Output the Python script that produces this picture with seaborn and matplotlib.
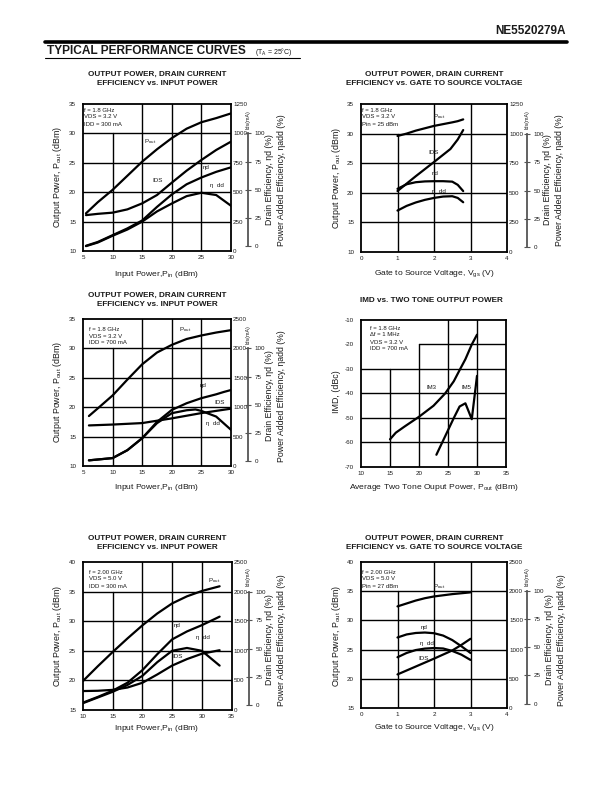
"""
NE5520279A - typical performance curves (datasheet page recreation).
"""
import matplotlib
matplotlib.use("Agg")
import matplotlib.pyplot as plt
from matplotlib.lines import Line2D
import seaborn as sns

W, H = 612, 792

# --- chart 1: f=1.8 GHz, VDS=3.2 V, IDD=300 mA, vs Pin ---
C1_PIN = [5.5, 7.5, 10, 12.5, 15, 17.5, 20, 22.5, 25, 27.5, 30]
C1_POUT = [16.4, 18.3, 20.4, 22.8, 25.2, 27.3, 29.2, 30.8, 31.9, 32.6, 33.4]
C1_IDS = [305, 316, 326, 354, 405, 476, 581, 683, 774, 859, 930]
C1_ETAD = [0.6, 4, 10, 16, 23, 35, 46, 55, 61, 66, 70]
C1_ETAADD = [0.3, 3.5, 9.5, 15, 22, 31, 38, 44.5, 47.5, 45.5, 36]

# --- chart 2: f=1.8 GHz, VDS=3.2 V, Pin=25 dBm, vs Vgs ---
C2_VGS = [1.0, 1.25, 1.5, 1.75, 2.0, 2.25, 2.5, 2.65, 2.8]
C2_POUT = [29.6, 30.0, 30.5, 30.9, 31.3, 31.6, 31.9, 32.1, 32.4]
C2_IDS_VGS = [1.0, 1.5, 2.0, 2.45, 2.65, 2.8]
C2_IDS = [515, 640, 760, 870, 950, 1030]
C2_ETAD = [51.5, 55.5, 57.3, 58, 58.2, 58.2, 57.8, 55, 49.5]
C2_ETAADD = [32.4, 36.5, 39.5, 41.8, 43.5, 44.7, 45, 43.5, 39.7]

# --- chart 3: f=1.8 GHz, VDS=3.2 V, IDD=700 mA, vs Pin ---
C3_PIN = [6, 7.5, 10, 12.5, 15, 17.5, 20, 22.5, 25, 27.5, 30]
C3_POUT = [18.5, 19.8, 22, 24.7, 27.3, 29.3, 30.6, 31.6, 32.2, 32.7, 33.1]
C3_IDS_PIN = [6, 10, 15, 20, 25, 30]
C3_IDS = [690, 705, 730, 810, 900, 975]
C3_ETAD_PIN = [6, 10, 12.5, 15, 17.5, 20, 22.5, 25, 27.5, 28.8, 30]
C3_ETAD = [1, 3, 10, 20.6, 35, 45.6, 51.5, 56, 59.4, 61.5, 63.2]
C3_ETAADD_PIN = [6, 10, 12.5, 15, 17.5, 20, 22.5, 24, 25, 27.5, 30]
C3_ETAADD = [1, 3, 10, 20.6, 33.9, 42.7, 45.3, 46, 44.7, 39.7, 28]

# --- chart 4: IMD vs two tone output power ---
IM3_POUT = [15, 16, 17.5, 20, 22.5, 24.5, 26, 27.1, 28, 29.1, 30]
IM3 = [-58.7, -56, -53.5, -49.5, -45, -40, -35, -30, -26, -20, -16]
IM5_POUT = [23, 24, 25, 26, 27, 28, 29.1, 30]
IM5 = [-65, -60, -55, -50, -45.3, -44, -50.5, -32.8]

# --- chart 5: f=2.00 GHz, VDS=5.0 V, IDD=300 mA, vs Pin ---
C5_PIN = [10, 12.5, 15, 17.5, 20, 22.5, 25, 27.5, 30, 33]
C5_POUT = [19.9, 22.4, 24.8, 27.1, 29.3, 31.3, 33, 34.2, 35.1, 35.9]
C5_IDS = [320, 325, 340, 380, 460, 600, 750, 860, 950, 1010]
C5_ETAD = [2.5, 7.5, 13, 20, 31, 45, 58, 65, 70.5, 78]
C5_ETAADD = [2, 7, 12, 18, 26, 38, 48, 50.5, 48, 35]

# --- chart 6: f=2.00 GHz, VDS=5.0 V, Pin=27 dBm, vs Vgs ---
C6_VGS = [1, 1.25, 1.5, 1.75, 2, 2.25, 2.5, 2.75, 3]
C6_POUT = [32.4, 32.9, 33.4, 33.8, 34.1, 34.3, 34.5, 34.65, 34.8]
C6_ETAD = [58.8, 61.5, 62.8, 63.2, 62.6, 60.5, 56.5, 51, 45]
C6_ETAADD = [41.2, 45, 47.6, 48.9, 49.4, 49, 46.8, 43.5, 38.8]
C6_IDS_VGS = [1, 1.5, 2, 2.5, 2.75, 3]
C6_IDS = [575, 710, 845, 985, 1080, 1185]

TITLE_PIN = ["OUTPUT POWER, DRAIN CURRENT", "EFFICIENCY vs. INPUT POWER"]
TITLE_VGS = ["OUTPUT POWER, DRAIN CURRENT", "EFFICIENCY vs. GATE TO SOURCE VOLTAGE"]
XLAB_PIN = "Input Power,P$_{in}$ (dBm)"
XLAB_VGS = "Gate to Source Voltage, V$_{gs}$ (V)"
YLAB_POUT = "Output Power, P$_{out}$ (dBm)"

sns.set_style("white")
plt.rcParams["font.family"] = ["Liberation Sans", "DejaVu Sans"]
plt.rcParams["mathtext.default"] = "regular"
plt.rcParams["axes.unicode_minus"] = False

fig = plt.figure(figsize=(W / 100, H / 100), dpi=100)
TXT = "#1a1a1a"
LW = 1.6
PT = 0.72  # points per pixel at 100 dpi


def rect(l, t, r, b):
    return [l / W, 1 - b / H, (r - l) / W, (b - t) / H]


def ftext(x, y, s, **kw):
    kw.setdefault("color", TXT)
    kw.setdefault("ha", "center")
    kw.setdefault("va", "center")
    fig.text(x / W, 1 - y / H, s, **kw)


def fline(x0, x1, y0, y1, lw):
    fig.add_artist(Line2D([x0 / W, x1 / W], [1 - y0 / H, 1 - y1 / H],
                          transform=fig.transFigure, color="black", lw=lw))


def base_axes(box, xlim, ylim, xticks, yticks, vgrid, hgrid):
    ax = fig.add_axes(rect(*box))
    ax.set_xlim(*xlim)
    ax.set_ylim(*ylim)
    ax.set_xticks(xticks)
    ax.set_yticks(yticks)
    ax.tick_params(length=0, labelsize=4.5, colors=TXT)
    ax.tick_params(axis="y", pad=5)
    ax.tick_params(axis="x", pad=3)
    for sp in ax.spines.values():
        sp.set_linewidth(1.3)
        sp.set_color("black")
    ylo, yhi = ylim
    xlo, xhi = xlim
    for x, a, b in vgrid:
        ax.axvline(x, ymin=(a - ylo) / (yhi - ylo), ymax=(b - ylo) / (yhi - ylo),
                   color="black", lw=1.0)
    for y, a, b in hgrid:
        ax.axhline(y, xmin=(a - xlo) / (xhi - xlo), xmax=(b - xlo) / (xhi - xlo),
                   color="black", lw=1.0)
    return ax


def side_axes(ax, idd_max, idd_step, off_px):
    ax2 = ax.twinx()
    ax2.set_ylim(0, idd_max)
    ax2.set_yticks(range(0, idd_max + 1, idd_step))
    ax2.tick_params(length=0, labelsize=4.5, pad=1.5, colors=TXT)
    for sp in ax2.spines.values():
        sp.set_visible(False)
    ax3 = ax.twinx()
    ax3.set_ylim(-4, 126)
    ax3.set_yticks([0, 25, 50, 75, 100])
    for k, sp in ax3.spines.items():
        sp.set_visible(k == "right")
    ax3.spines["right"].set_position(("outward", off_px * PT))
    ax3.spines["right"].set_bounds(0, 100)
    ax3.spines["right"].set_color("#555555")
    ax3.spines["right"].set_linewidth(1.3)
    ax3.tick_params(direction="inout", length=5, width=0.8, labelsize=4.5, pad=2.5,
                    color="#555555", labelcolor=TXT)
    return ax2, ax3


def curve(ax, x, y):
    sns.lineplot(x=x, y=y, ax=ax, color="black", linewidth=LW, legend=False)
    ax.set_xlabel("")
    ax.set_ylabel("")


def cond_text(x, y, lines):
    for i, s in enumerate(lines):
        ftext(x, y + i * 7, s, ha="left", fontsize=4.3)


def titles(cx, y, lines):
    for i, s in enumerate(lines):
        ftext(cx, y + i * 9.5, s, fontsize=5.9, fontweight="bold")


def eff_labels(x1, x2, yc, idx, idy):
    ftext(x1, yc, "Drain Efficiency, ηd (%)", rotation=90, fontsize=6.3)
    ftext(x2, yc, "Power Added Efficiency, ηadd (%)", rotation=90, fontsize=6.3)
    ftext(idx, idy, "Ids(mA)", rotation=90, fontsize=3.8)


# ---------------- header ----------------
ftext(566, 31, "NE5520279A", ha="right", fontsize=8.5, fontweight="bold")
fline(45, 567, 42, 42, 2.6)
ftext(47, 51, "TYPICAL PERFORMANCE CURVES", ha="left", fontsize=8.6, fontweight="bold")
ftext(255, 52, "(T$_A$ = 25°C)", ha="left", fontsize=5)
fline(45, 300, 58, 58, 0.8)

# ---------------- chart 1 ----------------
ax = base_axes((83, 104, 231, 251), (5, 30), (10, 35), range(5, 31, 5), range(10, 36, 5),
               [(10, 10, 30), (15, 10, 35), (20, 10, 35), (25, 10, 35)],
               [(15, 5, 30), (20, 5, 30), (25, 5, 30), (30, 5, 30)])
ax2, ax3 = side_axes(ax, 1250, 250, 17)
curve(ax, C1_PIN, C1_POUT)
curve(ax2, C1_PIN, C1_IDS)
curve(ax3, C1_PIN, C1_ETAD)
curve(ax3, C1_PIN, C1_ETAADD)
titles(157, 74, TITLE_PIN)
cond_text(84, 110, ["f = 1.8 GHz", "VDS = 3.2 V", "IDD = 300 mA"])
ftext(150, 142, "P$_{out}$", fontsize=4.5)
ftext(158, 181, "IDS", fontsize=4.5)
ftext(206, 168, "ηd", fontsize=4.5)
ftext(217, 186, "η  dd", fontsize=4.5)
ftext(157, 274, XLAB_PIN, fontsize=6.1)
ftext(57, 177, YLAB_POUT, rotation=90, fontsize=6.4)
eff_labels(269, 281, 180, 248, 120)

# ---------------- chart 2 ----------------
ax = base_axes((361, 104, 507, 252), (0, 4), (10, 35), range(0, 5), range(10, 36, 5),
               [(1, 10, 30), (2, 10, 35), (3, 10, 35)],
               [(15, 0, 4), (20, 0, 4), (25, 0, 4), (30, 0, 4)])
ax2, ax3 = side_axes(ax, 1250, 250, 20)
curve(ax, C2_VGS, C2_POUT)
curve(ax2, C2_IDS_VGS, C2_IDS)
curve(ax3, C2_VGS, C2_ETAD)
curve(ax3, C2_VGS, C2_ETAADD)
titles(434, 74, TITLE_VGS)
cond_text(362, 110, ["f = 1.8 GHz", "VDS = 3.2 V", "Pin = 25 dBm"])
ftext(439, 117, "P$_{out}$", fontsize=4.5)
ftext(434, 152, "IDS", fontsize=4.5)
ftext(435, 173, "ηd", fontsize=4.5)
ftext(439, 191, "η  dd", fontsize=4.5)
ftext(434, 274, XLAB_VGS, fontsize=6.1)
ftext(336, 178, YLAB_POUT, rotation=90, fontsize=6.4)
eff_labels(548, 560, 180, 527, 120)

# ---------------- chart 3 ----------------
ax = base_axes((83, 319, 231, 466), (5, 30), (10, 35), range(5, 31, 5), range(10, 36, 5),
               [(10, 10, 30), (15, 10, 35), (20, 10, 35), (25, 10, 35)],
               [(15, 5, 30), (20, 5, 30), (25, 5, 30), (30, 5, 30)])
ax2, ax3 = side_axes(ax, 2500, 500, 17)
curve(ax, C3_PIN, C3_POUT)
curve(ax2, C3_IDS_PIN, C3_IDS)
curve(ax3, C3_ETAD_PIN, C3_ETAD)
curve(ax3, C3_ETAADD_PIN, C3_ETAADD)
titles(157, 295, TITLE_PIN)
cond_text(89, 329, ["f = 1.8 GHz", "VDS = 3.2 V", "IDD = 700 mA"])
ftext(185, 330, "P$_{out}$", fontsize=4.5)
ftext(203, 386, "ηd", fontsize=4.5)
ftext(220, 403, "IDS", fontsize=4.5)
ftext(213, 423, "η  dd", fontsize=4.5)
ftext(157, 487, XLAB_PIN, fontsize=6.1)
ftext(57, 392, YLAB_POUT, rotation=90, fontsize=6.4)
eff_labels(269, 281, 396, 248, 335)

# ---------------- chart 4 ----------------
ax = base_axes((361, 320, 506, 467), (10, 35), (-70, -10), range(10, 36, 5), range(-70, -9, 10),
               [(15, -70, -30), (20, -70, -20), (25, -70, -10), (30, -70, -10)],
               [(-20, 20, 35), (-30, 10, 35), (-40, 10, 35), (-50, 10, 35), (-60, 10, 35)])
curve(ax, IM3_POUT, IM3)
curve(ax, IM5_POUT, IM5)
ftext(431, 300, "IMD vs. TWO TONE OUTPUT POWER", fontsize=5.9, fontweight="bold")
cond_text(370, 328, ["f = 1.8 GHz", "Δf = 1 MHz", "VDS = 3.2 V", "IDD = 700 mA"])
ftext(431, 388, "IM3", fontsize=4.3)
ftext(466, 388, "IM5", fontsize=4.3)
ftext(434, 487, "Average Two Tone Ouput Power, P$_{out}$ (dBm)", fontsize=6.1)
ftext(336, 392, "IMD, (dBc)", rotation=90, fontsize=6.4)

# ---------------- chart 5 ----------------
ax = base_axes((83, 562, 231.5, 710), (10, 35), (15, 40), range(10, 36, 5), range(15, 41, 5),
               [(15, 15, 35), (20, 15, 40), (25, 15, 40), (30, 15, 40)],
               [(20, 10, 35), (25, 10, 35), (30, 10, 35), (35, 10, 35)])
ax2, ax3 = side_axes(ax, 2500, 500, 17)
curve(ax, C5_PIN, C5_POUT)
curve(ax2, C5_PIN, C5_IDS)
curve(ax3, C5_PIN, C5_ETAD)
curve(ax3, C5_PIN, C5_ETAADD)
titles(157, 538, TITLE_PIN)
cond_text(89, 572, ["f = 2.00 GHz", "VDS = 5.0 V", "IDD = 300 mA"])
ftext(214, 581, "P$_{out}$", fontsize=4.5)
ftext(177, 626, "ηd", fontsize=4.5)
ftext(203, 637, "η  dd", fontsize=4.5)
ftext(178, 657, "IDS", fontsize=4.5)
ftext(157, 728, XLAB_PIN, fontsize=6.1)
ftext(57, 636, YLAB_POUT, rotation=90, fontsize=6.4)
eff_labels(269, 281, 640, 248, 577)

# ---------------- chart 6 ----------------
ax = base_axes((361, 562, 507, 708), (0, 4), (15, 40), range(0, 5), range(15, 41, 5),
               [(1, 15, 35), (2, 15, 40), (3, 15, 40)],
               [(20, 0, 4), (25, 0, 4), (30, 0, 4), (35, 0, 4)])
ax2, ax3 = side_axes(ax, 2500, 500, 20)
curve(ax, C6_VGS, C6_POUT)
curve(ax2, C6_IDS_VGS, C6_IDS)
curve(ax3, C6_VGS, C6_ETAD)
curve(ax3, C6_VGS, C6_ETAADD)
titles(434, 538, TITLE_VGS)
cond_text(362, 572, ["f = 2.00 GHz", "VDS = 5.0 V", "Pin = 27 dBm"])
ftext(439, 587, "P$_{out}$", fontsize=4.5)
ftext(424, 628, "ηd", fontsize=4.5)
ftext(427, 643, "η  dd", fontsize=4.5)
ftext(424, 659, "IDS", fontsize=4.5)
ftext(434, 728, XLAB_VGS, fontsize=6.1)
ftext(336, 636, YLAB_POUT, rotation=90, fontsize=6.4)
eff_labels(549, 561, 640, 527, 577)

fig.savefig("out.png", dpi=100, facecolor="white")
